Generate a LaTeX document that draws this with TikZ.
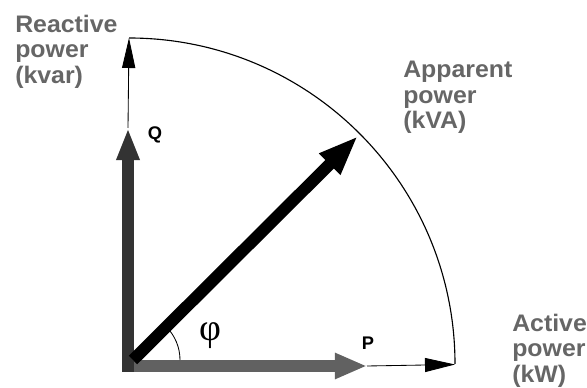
\documentclass[tikz,border=0pt]{standalone}
\usepackage{fontspec}
\usepackage{xcolor}
\setmainfont{Liberation Sans}
\newfontfamily\lblfont[FakeStretch=1.04]{Liberation Sans}
\newfontfamily\phifont{Liberation Serif}
\usetikzlibrary{arrows.meta}

\begin{document}
\begin{tikzpicture}[x=0.025cm, y=0.025cm,
  axislabel/.style={font=\lblfont\bfseries\fontsize{17}{18}\selectfont, text=black!60, align=left, anchor=north west, inner sep=0pt},
  vlabel/.style={font=\bfseries\fontsize{13}{15}\selectfont, inner sep=0pt}]
\useasboundingbox (0,0) rectangle (587,388);
\coordinate (hleft) at (122,22);
\coordinate (htip) at (367,22);
\coordinate (hend) at (455,23.5);
\coordinate (vbot) at (128,16);
\coordinate (vtip) at (128,260);
\coordinate (vtop) at (129,350);
\coordinate (dstart) at (133,28);
\coordinate (dtip) at (358,252);
\draw[line width=0.8pt] (vtop) arc[start angle=90, end angle=0, radius=326];
\draw[line width=0.6pt, -{Triangle[length=0.75cm, width=0.33cm]}] (vtip) -- (vtop);
\draw[line width=0.6pt, -{Triangle[length=0.75cm, width=0.35cm]}] (htip) -- (hend);
\draw[line width=0.29cm, black!62, -{Triangle[length=0.8cm, width=0.6cm]}] (hleft) -- (htip);
\draw[line width=0.29cm, black!80, -{Triangle[length=0.8cm, width=0.53cm]}] (vbot) -- (vtip);
\draw[line width=0.3cm, -{Triangle[length=1cm, width=0.68cm]}] (dstart) -- (dtip);
\draw[line width=0.6pt] (dstart) ++(47,0) arc[start angle=0, end angle=45, radius=47];
\node[vlabel] (Q) at (155,253) {Q};
\node[vlabel] (P) at (368,45) {P};
\node[font=\phifont\fontsize{27}{27}\selectfont, inner sep=0pt] (phi) at (210,52) {φ};
\node[axislabel] (reactive) at (15,373) {Reactive\\power\\(kvar)};
\node[axislabel] (apparent) at (403,327) {Apparent\\power\\(kVA)};
\node[axislabel] (active) at (512,74) {Active\\power\\(kW)};
\end{tikzpicture}
\end{document}
